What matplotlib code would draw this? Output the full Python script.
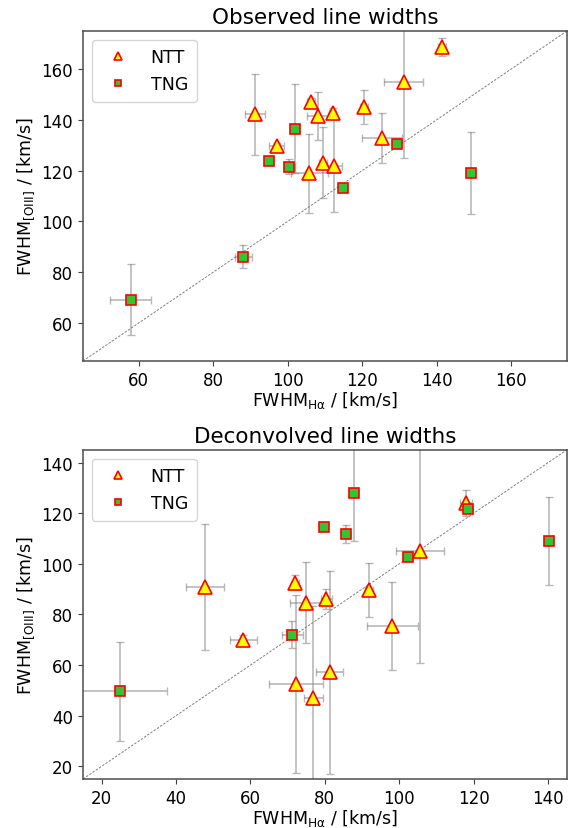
import matplotlib
matplotlib.use("Agg")
import matplotlib.pyplot as plt
import numpy as np

# ---------------- Observed line widths ----------------
obs_ntt_x = [91.2, 97.1, 106.3, 108.1, 112.1, 120.5, 131.2, 141.5, 125.3, 109.5, 112.5, 105.8]
obs_ntt_y = [142.2, 129.9, 147.1, 141.5, 142.6, 145.1, 155.0, 168.8, 133.0, 123.1, 122.0, 118.9]
obs_ntt_xerr = [2.7, 2.0, 1.0, 2.8, 1.0, 1.0, 5.2, 1.0, 5.4, 1.0, 2.0, 5.0]
obs_ntt_yerr = [16.0, 1.0, 1.5, 9.5, 2.2, 6.8, 30.0, 3.6, 9.9, 14.0, 18.4, 15.5]

obs_tng_x = [95.1, 100.4, 102.1, 115.0, 129.5, 149.3, 88.1, 57.8]
obs_tng_y = [123.7, 121.6, 136.5, 113.2, 130.6, 119.1, 86.1, 69.1]
obs_tng_xerr = [1.0, 1.5, 1.0, 1.0, 1.0, 1.0, 2.2, 5.5]
obs_tng_yerr = [1.0, 3.1, 17.5, 1.0, 1.0, 16.0, 4.5, 14.0]

# ---------------- Deconvolved line widths ----------------
dec_ntt_x = [47.8, 72.1, 74.9, 80.4, 91.8, 105.5, 117.9, 58.1, 98.1, 72.3, 76.9, 81.3]
dec_ntt_y = [90.9, 92.6, 84.6, 86.1, 89.7, 105.1, 124.0, 69.8, 75.5, 52.5, 47.0, 57.1]
dec_ntt_xerr = [5.1, 1.0, 4.2, 1.5, 1.0, 6.5, 1.5, 3.6, 6.8, 7.2, 2.5, 3.6]
dec_ntt_yerr = [25.0, 2.8, 16.0, 4.0, 10.6, 44.4, 5.0, 2.0, 17.5, 35.0, 36.5, 40.0]

dec_tng_x = [79.7, 87.8, 85.7, 118.5, 102.4, 140.1, 71.3, 24.9]
dec_tng_y = [114.4, 127.9, 111.8, 121.6, 102.8, 109.0, 72.0, 49.6]
dec_tng_xerr = [1.0, 1.0, 1.0, 1.0, 1.0, 1.0, 2.9, 12.8]
dec_tng_yerr = [1.0, 18.8, 3.5, 1.0, 1.0, 17.4, 5.4, 19.5]

titles = ["Observed line widths", "Deconvolved line widths"]
limits = [(45, 175), (15, 145)]
xticks = [[60, 80, 100, 120, 140, 160], [20, 40, 60, 80, 100, 120, 140]]
yticks = [[60, 80, 100, 120, 140, 160], [20, 40, 60, 80, 100, 120, 140]]

fig = plt.figure(figsize=(5.76, 8.29), dpi=100)
ax1 = fig.add_axes([0.144, 0.5633, 0.840, 0.398])
ax2 = fig.add_axes([0.144, 0.0591, 0.840, 0.397])

datasets = [
    (obs_ntt_x, obs_ntt_y, obs_ntt_xerr, obs_ntt_yerr, obs_tng_x, obs_tng_y, obs_tng_xerr, obs_tng_yerr),
    (dec_ntt_x, dec_ntt_y, dec_ntt_xerr, dec_ntt_yerr, dec_tng_x, dec_tng_y, dec_tng_xerr, dec_tng_yerr),
]

for ax, data, title, lim, xt, yt in zip([ax1, ax2], datasets, titles, limits, xticks, yticks):
    nx, ny, nxe, nye, tx, ty, txe, tye = data
    ax.plot(lim, lim, linestyle='--', color='gray', lw=0.7, dashes=(2.5, 1.5), zorder=1)
    ax.errorbar(nx, ny, xerr=nxe, yerr=nye, fmt='none', ecolor='gray', alpha=0.55,
                elinewidth=1.2, capsize=3, capthick=1.0, zorder=2)
    ax.errorbar(tx, ty, xerr=txe, yerr=tye, fmt='none', ecolor='gray', alpha=0.55,
                elinewidth=1.2, capsize=3, capthick=1.0, zorder=2)
    ax.plot(nx, ny, linestyle='none', marker='^', ms=9.5, mfc='yellow', mec='red',
            mew=1.2, label='NTT', zorder=3)
    ax.plot(tx, ty, linestyle='none', marker='s', ms=7.5, mfc='#33c433', mec='red',
            mew=1.2, label='TNG', zorder=3)
    ax.set_xlim(lim)
    ax.set_ylim(lim)
    ax.set_xticks(xt)
    ax.set_yticks(yt)
    ax.tick_params(labelsize=12, color='0.25')
    for sp in ax.spines.values():
        sp.set_color('0.3')
        sp.set_linewidth(1.1)
    ax.set_title(title, fontsize=15.5)
    ax.set_xlabel(r'FWHM$_{\mathrm{H\alpha}}$ / [km/s]', fontsize=12.5, labelpad=0)
    ax.set_ylabel(r'FWHM$_{\mathrm{[OIII]}}$ / [km/s]', fontsize=12.5)
    ax.legend(loc='upper left', fontsize=12.5, markerscale=0.65, handletextpad=0.9,
              borderpad=0.5)

fig.savefig("out.png", dpi=100)
